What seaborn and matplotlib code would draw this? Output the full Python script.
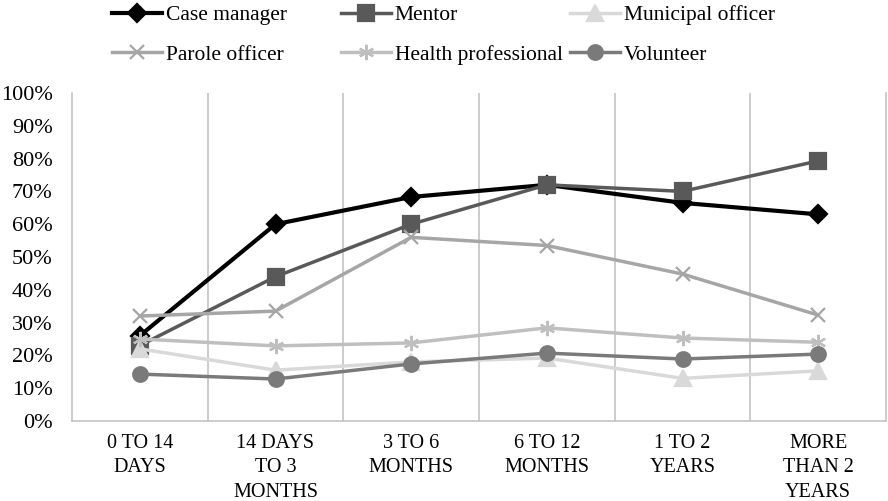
import matplotlib
matplotlib.use("Agg")
import matplotlib.pyplot as plt
from matplotlib.ticker import FixedLocator, PercentFormatter
import seaborn as sns
import pandas as pd

# Time since release and share of respondents naming each contact
categories = ["0 to 14 days", "14 days to 3 months", "3 to 6 months",
              "6 to 12 months", "1 to 2 years", "More than 2 years"]
tick_labels = ["0 TO 14\nDAYS", "14 DAYS\nTO 3\nMONTHS", "3 TO 6\nMONTHS",
               "6 TO 12\nMONTHS", "1 TO 2\nYEARS", "MORE\nTHAN 2\nYEARS"]

case_manager = [0.26, 0.60, 0.683, 0.72, 0.665, 0.63]
mentor = [0.23, 0.44, 0.60, 0.72, 0.70, 0.793]
municipal_officer = [0.22, 0.155, 0.18, 0.192, 0.13, 0.153]
parole_officer = [0.32, 0.335, 0.56, 0.535, 0.448, 0.323]
health_professional = [0.25, 0.229, 0.238, 0.284, 0.253, 0.24]
volunteer = [0.143, 0.128, 0.174, 0.207, 0.189, 0.204]

series = [
    ("Case manager", case_manager, "#000000", "D", 9.5, 3.0),
    ("Mentor", mentor, "#595959", "s", 11, 2.5),
    ("Municipal officer", municipal_officer, "#d9d9d9", "^", 11, 2.5),
    ("Parole officer", parole_officer, "#a6a6a6", "x", 10, 2.5),
    ("Health professional", health_professional, "#bfbfbf", (6, 2, 0), 11, 2.5),
    ("Volunteer", volunteer, "#7a7a7a", "o", 10.5, 2.5),
]

plt.rcParams["font.family"] = ["Liberation Serif", "DejaVu Serif"]

fig = plt.figure(figsize=(8.88, 5.01), dpi=100)
ax = fig.add_axes([72 / 888, 1 - 421 / 501, (886 - 72) / 888, (421 - 93) / 501])

handles = {}
for name, values, color, marker, msize, lw in series:
    df = pd.DataFrame({"period": categories, "share": values})
    sns.lineplot(data=df, x="period", y="share", ax=ax, color=color,
                 marker=marker, markersize=msize, markeredgecolor=color,
                 markerfacecolor=color, markeredgewidth=1.6, linewidth=lw,
                 label=name, sort=False)
    handles[name] = ax.lines[-1]

ax.set_xlim(-0.5, len(categories) - 0.5)
ax.set_ylim(0, 1.0)
ax.yaxis.set_major_locator(FixedLocator([i / 10 for i in range(11)]))
ax.yaxis.set_major_formatter(PercentFormatter(1.0, decimals=0))
ax.set_xticks(range(len(categories)))
ax.set_xticklabels(tick_labels, fontsize=14.5, linespacing=1.42)
ax.xaxis.set_minor_locator(FixedLocator([i + 0.5 for i in range(len(categories) - 1)]))
ax.tick_params(axis="x", which="both", length=0, pad=9)
ax.tick_params(axis="y", length=0, pad=14, labelsize=16)
ax.grid(False)
ax.grid(True, which="minor", axis="x", color="#bfbfbf", linewidth=1.1)
ax.set_xlabel("")
ax.set_ylabel("")
for side in ("left", "right", "bottom"):
    ax.spines[side].set_color("#bfbfbf")
    ax.spines[side].set_linewidth(1.1)
ax.spines["top"].set_visible(False)
ax.get_legend().remove()

# Legend laid out as three fixed-width columns above the plot
columns = [("Case manager", "Parole officer"),
           ("Mentor", "Health professional"),
           ("Municipal officer", "Volunteer")]
col_x = [112, 341, 570]
for x0, names in zip(col_x, columns):
    fig.legend([handles[n] for n in names], list(names),
               loc="upper left", bbox_to_anchor=(x0 / 888, 1 - 5 / 501),
               frameon=False, fontsize=15.5, handlelength=2.3,
               handletextpad=0.2, borderpad=0, borderaxespad=0,
               labelspacing=0.9)

fig.savefig("out.png", dpi=100)
